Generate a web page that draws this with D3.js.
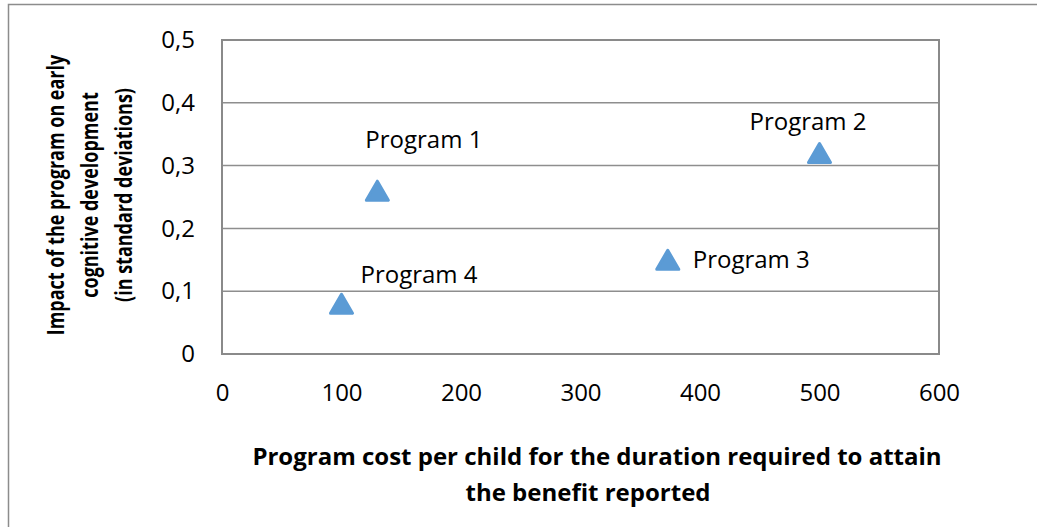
<!DOCTYPE html>
<html>
<head>
<meta charset="utf-8">
<script src="https://cdn.jsdelivr.net/npm/d3@7"></script>
<style>
  body { margin: 0; background: #fff; }
  svg text { font-family: "Open Sans", sans-serif; fill: #000; }
</style>
</head>
<body>
<div id="chart"></div>
<script>
// data
var programs = ["Program 1", "Program 2", "Program 3", "Program 4"];
var costs = [130, 500, 373, 100];
var impacts = [0.26, 0.32, 0.15, 0.08];
var xTicks = [0, 100, 200, 300, 400, 500, 600];
var yTicks = [0, 0.1, 0.2, 0.3, 0.4, 0.5];

// label placement relative to each marker
var labelOffset = {
    "Program 1": [-12, -43],
    "Program 2": [-70, -23],
    "Program 3": [25, 8],
    "Program 4": [19, -21]
};

var width = 1037, height = 527;
var margin = {left: 222, top: 40, right: 98, bottom: 173};
var pw = width - margin.left - margin.right;
var ph = height - margin.top - margin.bottom;

var svg = d3.select("#chart").append("svg")
    .attr("width", width)
    .attr("height", height);

// chart area border (runs off the right / bottom edges)
svg.append("rect")
    .attr("x", 8.5).attr("y", 4.5)
    .attr("width", 1200).attr("height", 700)
    .attr("fill", "none")
    .attr("stroke", "#8c8c8c")
    .attr("stroke-width", 1.5);

var x = d3.scaleLinear().domain([0, 600]).range([0, pw]);
var y = d3.scaleLinear().domain([0, 0.5]).range([ph, 0]);

var fmt = d3.formatLocale({decimal: ",", thousands: ".", grouping: [3], currency: ["", ""]}).format("~g");

var g = svg.append("g")
    .attr("transform", "translate(" + margin.left + "," + margin.top + ")");

// gridlines
g.selectAll(".grid")
    .data(yTicks.slice(1, -1))
    .enter().append("line")
    .attr("class", "grid")
    .attr("x1", 0).attr("x2", pw)
    .attr("y1", function(d) { return y(d); })
    .attr("y2", function(d) { return y(d); })
    .attr("stroke", "#8e8e8e")
    .attr("stroke-width", 1.5);

// plot border
g.append("rect")
    .attr("width", pw).attr("height", ph)
    .attr("fill", "none")
    .attr("stroke", "#8a8a8a")
    .attr("stroke-width", 2);

// axes, only the labels are shown
var xAxis = g.append("g")
    .attr("transform", "translate(0," + ph + ")")
    .call(d3.axisBottom(x).tickValues(xTicks).tickSize(0).tickPadding(30).tickFormat(d3.format("d")));
xAxis.select(".domain").remove();
xAxis.selectAll("text").style("font-size", "24px").attr("fill", "#000");

var yAxis = g.append("g")
    .call(d3.axisLeft(y).tickValues(yTicks).tickSize(0).tickPadding(27).tickFormat(fmt));
yAxis.select(".domain").remove();
yAxis.selectAll("text").style("font-size", "24px").attr("fill", "#000");

// markers
var tri = d3.symbol().type(d3.symbolTriangle).size(210);
var half = Math.sqrt(210 / (3 * Math.sqrt(3))) / 2; // shift so the bounding box is centred

var pts = g.selectAll(".pt")
    .data(programs)
    .enter().append("g")
    .attr("class", "pt")
    .attr("transform", function(d, i) { return "translate(" + x(costs[i]) + "," + y(impacts[i]) + ")"; });

pts.append("path")
    .attr("d", tri)
    .attr("transform", "translate(0," + half + ")")
    .attr("fill", "#5b9bd5")
    .attr("stroke", "#5b9bd5")
    .attr("stroke-width", 3)
    .attr("stroke-linejoin", "round");

pts.append("text")
    .attr("x", function(d) { return labelOffset[d][0]; })
    .attr("y", function(d) { return labelOffset[d][1]; })
    .style("font-size", "24px")
    .text(function(d) { return d; });

// axis titles
var xTitle = svg.append("text")
    .attr("text-anchor", "middle")
    .style("font-size", "24px")
    .style("font-weight", "bold");
xTitle.append("tspan").attr("x", 597).attr("y", 465).text("Program cost per child for the duration required to attain");
xTitle.append("tspan").attr("x", 588).attr("y", 501).text("the benefit reported");

// narrower along the text so it fits like the original condensed face
var yTitle = svg.append("text")
    .attr("text-anchor", "middle")
    .attr("transform", "translate(0,195) rotate(-90) scale(0.8,1)")
    .style("font-size", "22.5px")
    .style("font-weight", "bold");
["Impact of the program on early", "cognitive development", "(in standard deviations)"].forEach(function(t, i) {
    yTitle.append("tspan").attr("x", 0).attr("y", 64 + i * 34).text(t);
});
</script>
</body>
</html>
